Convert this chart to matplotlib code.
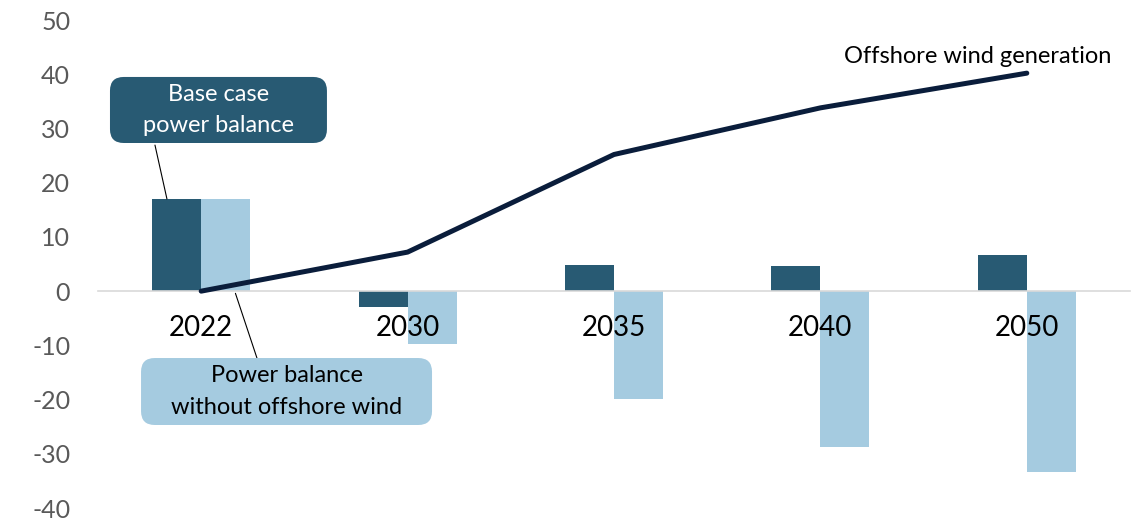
import numpy as np
import matplotlib
matplotlib.use('Agg')
import matplotlib.pyplot as plt
from matplotlib.patches import FancyBboxPatch

plt.rcParams['font.family'] = ['Lato', 'DejaVu Sans']

years = ['2022', '2030', '2035', '2040', '2050']
base_case = [17.0, -2.9, 4.9, 4.6, 6.6]
no_offshore = [17.0, -9.8, -19.9, -28.7, -33.3]
offshore_gen = [0.0, 7.2, 25.2, 33.8, 40.2]
y_ticks = [-40, -30, -20, -10, 0, 10, 20, 30, 40, 50]

dark = '#285a73'
light = '#a5cbe0'
navy = '#0a1d3b'

fig = plt.figure(figsize=(11.42, 5.2), dpi=100)
ax = fig.add_axes([0.0858, 0.023, 0.9037, 0.9385])

x = np.arange(len(years))
w = 0.237
ax.bar(x - w / 2, base_case, w, color=dark, zorder=1)
ax.bar(x + w / 2, no_offshore, w, color=light, zorder=1)
ax.plot(x, offshore_gen, color=navy, lw=3.6, solid_capstyle='round',
        solid_joinstyle='round', zorder=4)

# spine first: moving it resets the tick settings
for s in ['top', 'right', 'left']:
    ax.spines[s].set_visible(False)
ax.spines['bottom'].set_position(('data', 0))
ax.spines['bottom'].set_color('#d9d9d9')
ax.spines['bottom'].set_linewidth(1.2)

ax.set_xlim(-0.5, len(years) - 0.5)
ax.set_ylim(-40, 50)
ax.set_yticks(y_ticks)
ax.set_yticklabels([str(v) for v in y_ticks])
ax.set_xticks(x)
ax.set_xticklabels(years)
ax.tick_params(axis='y', length=0, pad=20, labelsize=18, labelcolor='#595959')
ax.tick_params(axis='x', length=0, pad=17, labelsize=20, labelcolor='black')

ax.text(len(years) - 0.59, 43.2, 'Offshore wind generation', ha='right',
        va='center', fontsize=17, color='black')

# callout boxes
box1 = FancyBboxPatch((0.0963, 0.725), 0.19, 0.127, transform=fig.transFigure,
                      boxstyle='round,pad=0,rounding_size=0.012',
                      facecolor=dark, edgecolor='none', mutation_aspect=2.2)
box2 = FancyBboxPatch((0.1235, 0.1827), 0.2548, 0.1288, transform=fig.transFigure,
                      boxstyle='round,pad=0,rounding_size=0.012',
                      facecolor=light, edgecolor='none', mutation_aspect=2.2)
fig.patches.extend([box1, box2])
fig.text(0.0963 + 0.095, 0.7885, 'Base case\npower balance', ha='center',
         va='center', fontsize=17, color='white', linespacing=1.6)
fig.text(0.1235 + 0.1274, 0.2471, 'Power balance\nwithout offshore wind',
         ha='center', va='center', fontsize=17, color='black', linespacing=1.6)

ax.annotate('', xy=(x[0] - w * 0.7, base_case[0]), xycoords='data',
            xytext=(0.1357, 0.721), textcoords='figure fraction',
            arrowprops=dict(arrowstyle='-', color='black', lw=0.8,
                            shrinkA=0, shrinkB=0))
ax.annotate('', xy=(x[0] + w * 0.7, -0.4), xycoords='data',
            xytext=(0.225, 0.3115), textcoords='figure fraction',
            arrowprops=dict(arrowstyle='-', color='black', lw=0.8,
                            shrinkA=0, shrinkB=0))

fig.savefig('out.png', dpi=100)
